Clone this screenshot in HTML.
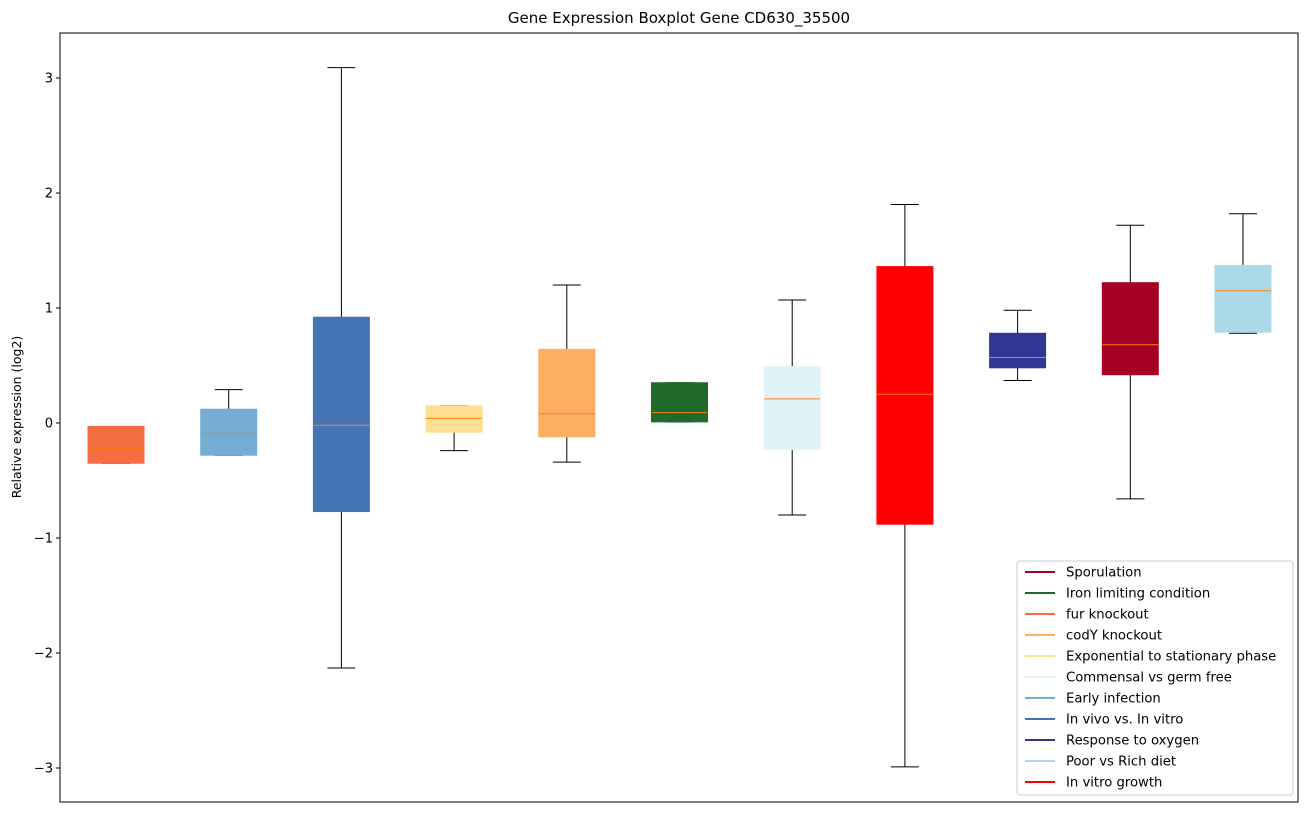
<!DOCTYPE html>
<html><head><meta charset="utf-8"><style>
body{margin:0;background:#fff;font-family:"Liberation Sans","DejaVu Sans",sans-serif}
svg text{font-family:"DejaVu Sans","Liberation Sans",sans-serif}
</style></head><body>
<svg id="chart" width="1309" height="812" xmlns="http://www.w3.org/2000/svg">
<rect x="0" y="0" width="1309" height="812" fill="#fff"/>
<text x="679" y="23" text-anchor="middle" font-size="15">Gene Expression Boxplot Gene CD630_35500</text>
<text transform="translate(21,417) rotate(-90)" text-anchor="middle" font-size="12.5">Relative expression (log2)</text>
<g id="ticks"></g>
<g id="boxes"></g>
<rect x="60" y="33" width="1238" height="769" fill="none" stroke="#000" stroke-width="1"/>
<g id="legend"></g>
</svg>
<script>
const categories=["fur knockout","Early infection","In vivo vs. In vitro","Exponential to stationary phase","codY knockout","Iron limiting condition","Commensal vs germ free","In vitro growth","Response to oxygen","Sporulation","Poor vs Rich diet"];
const colors=["#f46d43","#74add1","#4575b4","#fee090","#fdae61","#1f6b2b","#e0f3f8","#ff0000","#313695","#a50026","#abd9e9"];
const whiskerLow=[-0.35,-0.28,-2.13,-0.24,-0.34,0.01,-0.80,-2.99,0.37,-0.66,0.78];
const q1=[-0.35,-0.28,-0.77,-0.08,-0.12,0.01,-0.23,-0.88,0.48,0.42,0.79];
const medians=[-0.22,-0.09,-0.02,0.04,0.08,0.09,0.21,0.25,0.57,0.68,1.15];
const q3=[-0.03,0.12,0.92,0.15,0.64,0.35,0.49,1.36,0.78,1.22,1.37];
const whiskerHigh=[-0.03,0.29,3.09,0.15,1.20,0.35,1.07,1.90,0.98,1.72,1.82];
const yTicks=[-3,-2,-1,0,1,2,3];
const yTickLabels=["\u22123","\u22122","\u22121","0","1","2","3"];
const legendOrder=["Sporulation","Iron limiting condition","fur knockout","codY knockout","Exponential to stationary phase","Commensal vs germ free","Early infection","In vivo vs. In vitro","Response to oxygen","Poor vs Rich diet","In vitro growth"];
const NS="http://www.w3.org/2000/svg";
const y=v=>423-v*115;
const x=i=>116+i*112.7;
function mk(tag,attrs,parent){const e=document.createElementNS(NS,tag);for(const k in attrs)e.setAttribute(k,attrs[k]);parent.appendChild(e);return e;}
const tg=document.getElementById('ticks');
yTicks.forEach((t,i)=>{
 const l=mk('line',{x1:56,x2:60,y1:y(t),y2:y(t),stroke:'#000'},tg);
 
 
 const tx=mk('text',{x:53,y:y(t)+4.5,'text-anchor':'end','font-size':'13'},tg);
 tx.textContent=yTickLabels[i];
 
 
});
const bg=document.getElementById('boxes');
categories.forEach((c,i)=>{
 const g=mk('g',{},bg);
 
 
 const cx=x(i),hw=28,cw=14;
 mk('line',{x1:cx,x2:cx,y1:y(q3[i]),y2:y(whiskerHigh[i]),stroke:'#000'},g);
 mk('line',{x1:cx,x2:cx,y1:y(q1[i]),y2:y(whiskerLow[i]),stroke:'#000'},g);
 mk('line',{x1:cx-cw,x2:cx+cw,y1:y(whiskerHigh[i]),y2:y(whiskerHigh[i]),stroke:'#000'},g);
 mk('line',{x1:cx-cw,x2:cx+cw,y1:y(whiskerLow[i]),y2:y(whiskerLow[i]),stroke:'#000'},g);
 mk('rect',{x:cx-hw,y:y(q3[i]),width:hw*2,height:Math.max(1,y(q1[i])-y(q3[i])),fill:colors[i],stroke:colors[i]},g);
 mk('line',{x1:cx-hw,x2:cx+hw,y1:y(medians[i]),y2:y(medians[i]),stroke:'#ff7f0e','stroke-width':1},g);
});
const lg=document.getElementById('legend');
const lb=mk('rect',{x:1017,y:561,width:276,height:234,fill:'#fff',stroke:'#ccc',rx:3},lg);


legendOrder.forEach((n,k)=>{
 const i=categories.indexOf(n);
 const g=mk('g',{},lg);
 
 
 const ly=572+k*21;
 mk('line',{x1:1025,x2:1055,y1:ly,y2:ly,stroke:colors[i],'stroke-width':2},g);
 const t=mk('text',{x:1066,y:ly+4.5,'font-size':'13.2'},g);
 t.textContent=n;
});
</script>
</body></html>
